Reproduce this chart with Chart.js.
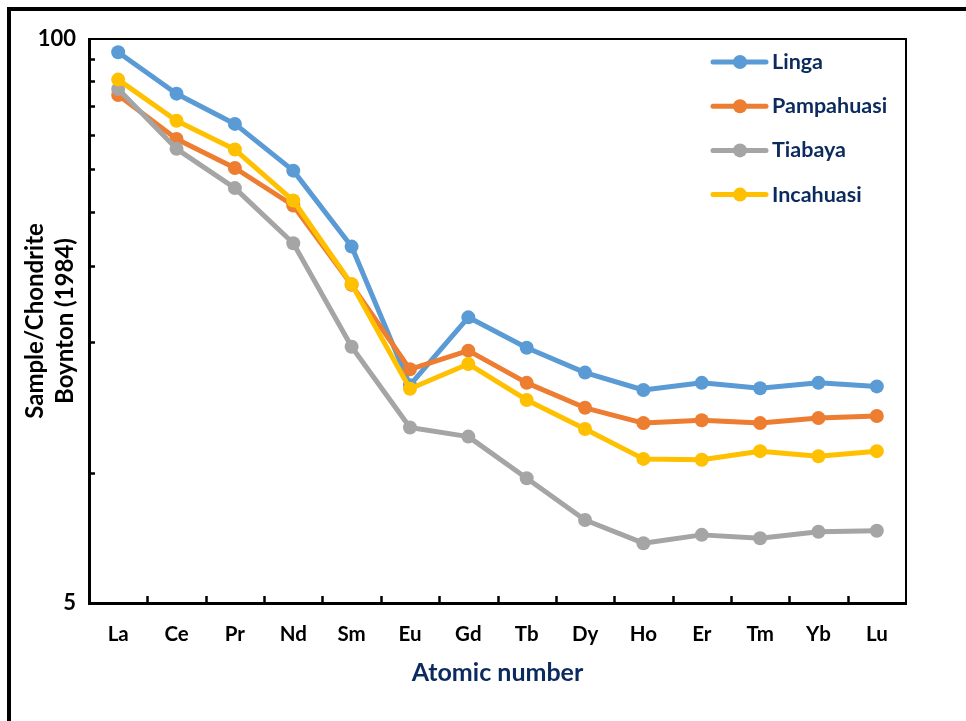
<!DOCTYPE html>
<html>
<head>
<meta charset="utf-8">
<script src="https://cdn.jsdelivr.net/npm/chart.js@4.4.1/dist/chart.umd.min.js"></script>
<style>
  html, body { margin: 0; padding: 0; background: #fff; overflow: hidden; }
  #wrap { position: relative; width: 966px; height: 721px; }
  #frame { position: absolute; left: 7px; top: 7px; width: 990px; height: 760px; border: 4px solid #000; pointer-events: none; }
  canvas { position: absolute; left: 0; top: 0; }
</style>
</head>
<body>
<div id="wrap">
  <canvas id="c" width="966" height="721"></canvas>
  <div id="frame"></div>
</div>
<script>
// ---- data ----
const categories = ['La','Ce','Pr','Nd','Sm','Eu','Gd','Tb','Dy','Ho','Er','Tm','Yb','Lu'];
const seriesNames = ['Linga','Pampahuasi','Tiabaya','Incahuasi'];
const linga      = [93.2, 74.8, 63.7, 49.7, 33.2, 15.9, 22.8, 19.4, 17.0, 15.5, 16.1, 15.65, 16.1, 15.8];
const pampahuasi = [74.3, 58.8, 50.4, 41.3, 27.1, 17.3, 19.1, 16.1, 14.1, 13.0, 13.2, 13.0, 13.35, 13.5];
const tiabaya    = [76.7, 55.8, 45.3, 33.8, 19.5, 12.7, 12.1, 9.7, 7.77, 6.87, 7.18, 7.05, 7.30, 7.34];
const incahuasi  = [80.6, 64.8, 55.6, 42.4, 27.2, 15.6, 17.8, 14.7, 12.6, 10.75, 10.7, 11.2, 10.9, 11.2];
const yTickValues = [5, 10, 20, 30, 40, 50, 60, 70, 80, 90, 100];
const yTickLabels = { 5: '5', 100: '100' };
const xTitle = 'Atomic number';
const yTitle = ['Sample/Chondrite', 'Boynton (1984)'];

const colors = ['#5B9BD5', '#ED7D31', '#A5A5A5', '#FFC000'];
const seriesValues = [linga, pampahuasi, tiabaya, incahuasi];
const FONT = 'Lato, "Open Sans", sans-serif';
const NAVY = '#0B2A5E';

const decorPlugin = {
  id: 'decor',
  beforeDatasetsDraw(chart) {
    const ctx = chart.ctx;
    const a = chart.chartArea;
    const xs = chart.scales.x, ys = chart.scales.y;
    ctx.save();
    // top and right border of plot area
    ctx.strokeStyle = '#000';
    ctx.lineWidth = 2;
    ctx.beginPath();
    ctx.moveTo(a.left, a.top); ctx.lineTo(a.right, a.top); ctx.lineTo(a.right, a.bottom);
    ctx.stroke();
    // inward ticks on x axis (category boundaries)
    ctx.lineWidth = 2.5;
    ctx.beginPath();
    for (let i = 1; i < categories.length; i++) {
      const px = Math.round((xs.getPixelForValue(i - 1) + xs.getPixelForValue(i)) / 2) + 0.5;
      ctx.moveTo(px, a.bottom);
      ctx.lineTo(px, a.bottom - 7);
    }
    ctx.stroke();
    // inward ticks on y axis
    ctx.beginPath();
    yTickValues.forEach(v => {
      if (v <= 5 || v >= 100) return;
      const py = Math.round(ys.getPixelForValue(v)) + 0.5;
      ctx.moveTo(a.left, py);
      ctx.lineTo(a.left + 6, py);
    });
    ctx.stroke();
    ctx.restore();
  },
  afterDraw(chart) {
    const ctx = chart.ctx;
    const a = chart.chartArea;
    ctx.save();
    // x title
    ctx.fillStyle = NAVY;
    ctx.font = 'bold 25px ' + FONT;
    ctx.textAlign = 'center';
    ctx.textBaseline = 'middle';
    ctx.fillText(xTitle, (a.left + a.right) / 2, 673);
    // y title (two lines, rotated)
    ctx.fillStyle = '#000';
    ctx.font = 'bold 24px ' + FONT;
    ctx.translate(0, (a.top + a.bottom) / 2);
    ctx.rotate(-Math.PI / 2);
    ctx.fillText(yTitle[0], 0, 35);
    ctx.fillText(yTitle[1], 0, 65);
    ctx.restore();

    // legend
    ctx.save();
    chart.data.datasets.forEach((ds, i) => {
      const y = 62 + i * 44.2;
      ctx.strokeStyle = ds.borderColor;
      ctx.lineWidth = 5;
      ctx.lineCap = 'round';
      ctx.beginPath();
      ctx.moveTo(713, y); ctx.lineTo(766, y);
      ctx.stroke();
      ctx.fillStyle = ds.borderColor;
      ctx.beginPath();
      ctx.arc(740, y, 7, 0, Math.PI * 2);
      ctx.fill();
      ctx.fillStyle = NAVY;
      ctx.font = 'bold 21.5px ' + FONT;
      ctx.textAlign = 'left';
      ctx.textBaseline = 'middle';
      ctx.fillText(ds.label, 772, y);
    });
    ctx.restore();
  }
};

const order = [3, 2, 1, 0];
const datasets = seriesNames.map((name, i) => ({
  label: name,
  data: seriesValues[i],
  borderColor: colors[i],
  backgroundColor: colors[i],
  pointBackgroundColor: colors[i],
  pointBorderColor: colors[i],
  borderWidth: 5,
  pointRadius: 7,
  pointBorderWidth: 0,
  pointHoverRadius: 7,
  borderJoinStyle: 'round',
  tension: 0,
  order: order[i]
}));

new Chart(document.getElementById('c'), {
  type: 'line',
  data: { labels: categories, datasets },
  options: {
    responsive: false,
    animation: false,
    events: [],
    layout: { padding: { top: 39, right: 60, bottom: 58, left: 0 } },
    plugins: { legend: { display: false }, tooltip: { enabled: false }, title: { display: false } },
    scales: {
      x: {
        type: 'category',
        offset: true,
        afterFit(s) { s.height = 60; },
        grid: { display: true, drawOnChartArea: false, drawTicks: false },
        border: { display: true, color: '#000', width: 3 },
        ticks: { color: '#000', font: { family: FONT, size: 20.5, weight: 'bold' }, padding: 19, maxRotation: 0, autoSkip: false }
      },
      y: {
        type: 'logarithmic',
        min: 5,
        max: 100,
        afterFit(s) { s.width = 89; },
        afterBuildTicks(s) { s.ticks = yTickValues.map(v => ({ value: v })); },
        grid: { display: true, drawOnChartArea: false, drawTicks: false },
        border: { display: true, color: '#000', width: 3 },
        ticks: {
          color: '#000',
          autoSkip: false,
          padding: 13,
          font: { family: FONT, size: 22, weight: 'bold' },
          callback: (v) => (yTickLabels[v] !== undefined ? yTickLabels[v] : '')
        }
      }
    }
  },
  plugins: [decorPlugin]
});
</script>
</body>
</html>
